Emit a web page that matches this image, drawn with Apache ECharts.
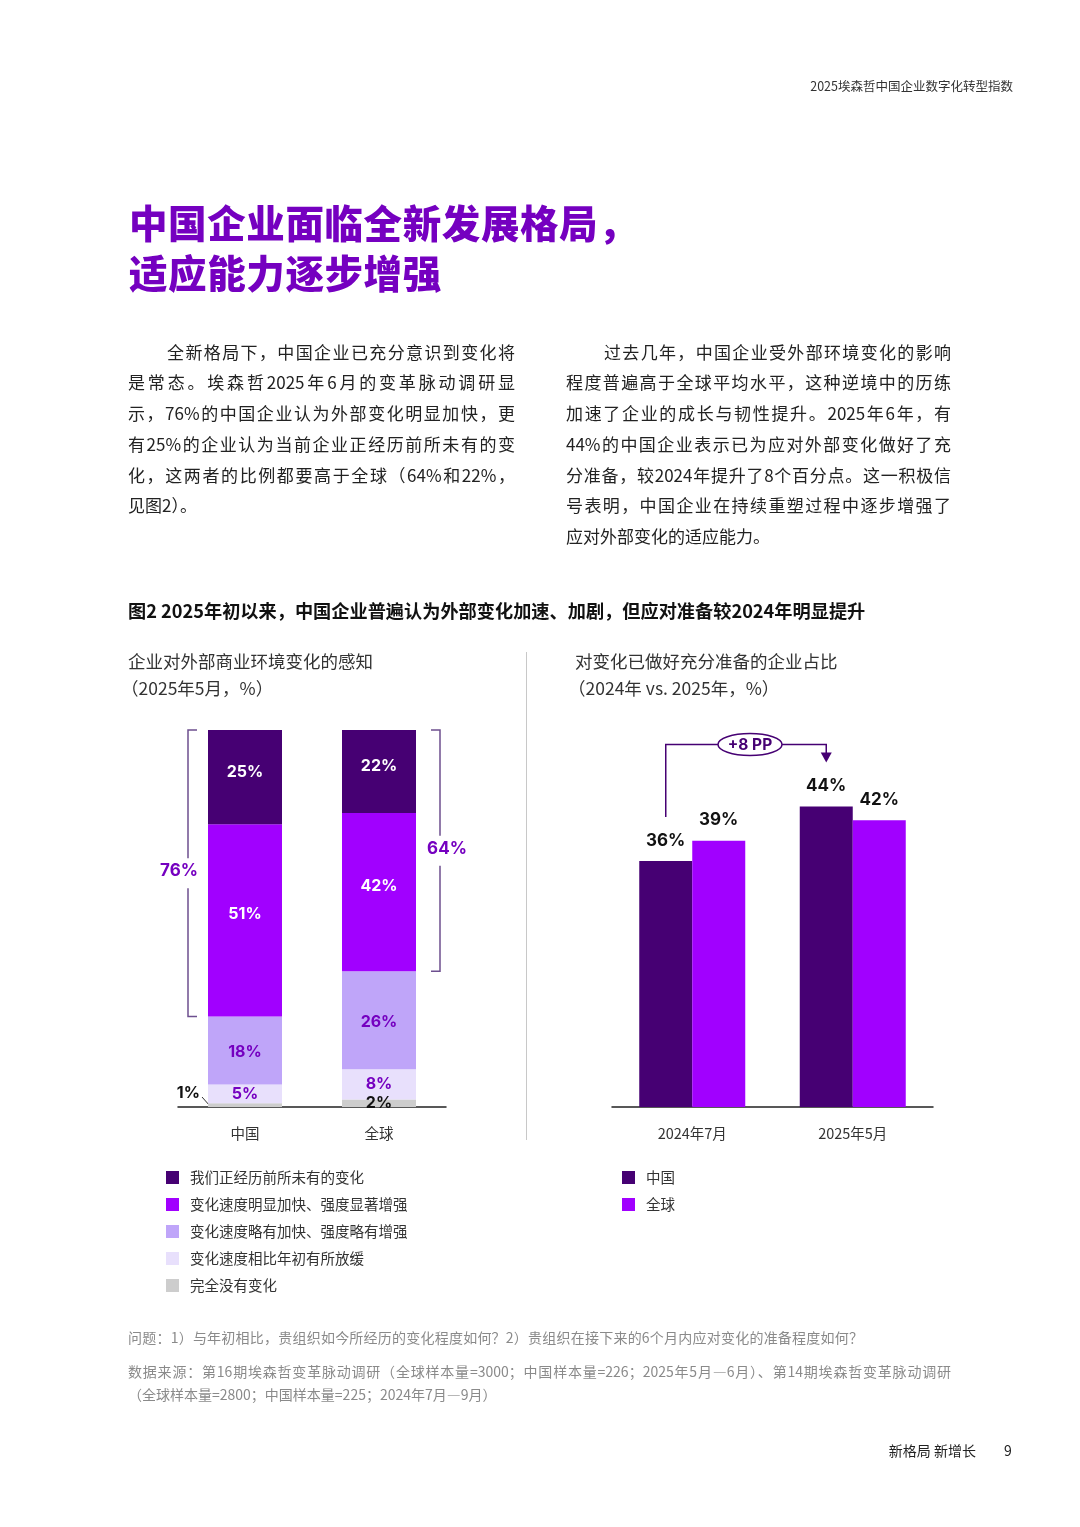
<!DOCTYPE html>
<html lang="zh-CN">
<head>
<meta charset="utf-8">
<title>图2 中国企业面临全新发展格局</title>
<script src="https://cdn.jsdelivr.net/npm/echarts@6.0.0/dist/echarts.min.js"></script>
<style>
  html, body { margin: 0; padding: 0; background: #fff; }
  #page { position: relative; width: 1080px; height: 1527px; overflow: hidden;
          font-family: "Noto Sans CJK SC", "Noto Sans", sans-serif; color: #222; }
  #chart { position: absolute; left: 0; top: 0; width: 1080px; height: 1527px; }
  .txt { position: absolute; white-space: nowrap; }
  .para { position: absolute; font-size: 17px; line-height: 30.8px; color: #222; }
  .para div, .just { text-align: justify; text-align-last: justify; }
  .para div.last { text-align-last: left; }
  .note { position: absolute; font-size: 14px; line-height: 23px; color: #8a8a8a; }
  .pl { margin-left: -7px; }
</style>
</head>
<body>
<div id="page">
  <div id="chart"></div>

  <div class="txt" style="right:67px; top:78px; font-size:12.5px; line-height:16px; color:#333;">2025埃森哲中国企业数字化转型指数</div>

  <div class="txt" style="left:129px; top:196px; font-size:38.5px; line-height:50px; font-weight:900; letter-spacing:0.6px; color:#7500c0;">中国企业面临全新发展格局，<br>适应能力逐步增强</div>

  <div class="para" style="left:128px; top:336.5px; width:387px;">
    <div style="padding-left:39px;">全新格局下，中国企业已充分意识到变化将</div>
    <div>是常态。埃森哲2025年6月的变革脉动调研显</div>
    <div>示，76%的中国企业认为外部变化明显加快，更</div>
    <div>有25%的企业认为当前企业正经历前所未有的变</div>
    <div>化，这两者的比例都要高于全球（64%和22%，</div>
    <div class="last">见图2）。</div>
  </div>

  <div class="para" style="left:566px; top:336.5px; width:385px;">
    <div style="padding-left:38px;">过去几年，中国企业受外部环境变化的影响</div>
    <div>程度普遍高于全球平均水平，这种逆境中的历练</div>
    <div>加速了企业的成长与韧性提升。2025年6年，有</div>
    <div>44%的中国企业表示已为应对外部变化做好了充</div>
    <div>分准备，较2024年提升了8个百分点。这一积极信</div>
    <div>号表明，中国企业在持续重塑过程中逐步增强了</div>
    <div class="last">应对外部变化的适应能力。</div>
  </div>

  <div class="txt" style="left:128px; top:598px; font-size:18.2px; line-height:24px; font-weight:700; color:#111;">图2 2025年初以来，中国企业普遍认为外部变化加速、加剧，但应对准备较2024年明显提升</div>

  <div class="txt" style="left:128px; top:646.5px; font-size:17.5px; line-height:27px; color:#333;">企业对外部商业环境变化的感知<br><span class="pl">（2025年5月，%）</span></div>
  <div class="txt" style="left:575px; top:646.5px; font-size:17.5px; line-height:27px; color:#333;">对变化已做好充分准备的企业占比<br><span class="pl">（2024年 vs. 2025年，%）</span></div>

  <div class="note" style="left:128px; top:1325.5px;">
    <div class="just" style="width:735px;">问题：1）与年初相比，贵组织如今所经历的变化程度如何？2）贵组织在接下来的6个月内应对变化的准备程度如何？</div>
  </div>
  <div class="note" style="left:128px; top:1359.5px;">
    <div class="just" style="width:823px;">数据来源：第16期埃森哲变革脉动调研（全球样本量=3000；中国样本量=226；2025年5月—6月）、第14期埃森哲变革脉动调研</div>
    <div>（全球样本量=2800；中国样本量=225；2024年7月—9月）</div>
  </div>

  <div class="txt" style="right:104px; top:1440px; font-size:14px; line-height:20px; color:#222;">新格局 新增长</div>
  <div class="txt" style="left:1004px; top:1440px; font-size:14px; line-height:20px; color:#222;">9</div>
</div>

<script>
// 左图：企业对外部商业环境变化的感知（2025年5月，%）
var leftCategories = ['中国', '全球'];
var changeNames = [
    '我们正经历前所未有的变化',
    '变化速度明显加快、强度显著增强',
    '变化速度略有加快、强度略有增强',
    '变化速度相比年初有所放缓',
    '完全没有变化'
];
var unprecedented = [25, 22];
var clearlyFaster = [51, 42];
var slightlyFaster = [18, 26];
var slowedDown = [5, 8];
var noChange = [1, 2];
var bracketTotals = [76, 64];

// 右图：对变化已做好充分准备的企业占比（%）
var rightCategories = ['2024年7月', '2025年5月'];
var readyNames = ['中国', '全球'];
var readyChina = [36, 44];
var readyGlobal = [39, 42];
var ppLabel = '+8 PP';

var DARK = '#460073', BRIGHT = '#a100ff', LIGHT = '#bfa5f9', LIGHTEST = '#e8e0fc', GRAY = '#cdcdcd';
var NUM_FONT = 'Inter, "Noto Sans CJK SC", sans-serif';

var myChart = echarts.init(document.getElementById('chart'));

function stackSeries(name, data, color, labelColor, dy) {
    return {
        name: name,
        type: 'bar',
        stack: 'change',
        xAxisIndex: 0,
        yAxisIndex: 0,
        barWidth: 74,
        data: data,
        itemStyle: { color: color },
        label: {
            show: true,
            position: 'inside',
            offset: [0, dy || 0],
            formatter: '{c}%',
            color: labelColor,
            fontFamily: NUM_FONT,
            fontWeight: 'bold',
            fontSize: 16
        },
        emphasis: { disabled: true }
    };
}

function readySeries(name, data, color) {
    return {
        name: name,
        type: 'bar',
        xAxisIndex: 1,
        yAxisIndex: 1,
        barWidth: 53,
        barGap: '0%',
        data: data,
        itemStyle: { color: color },
        label: {
            show: true,
            position: 'top',
            distance: 12,
            formatter: '{c}%',
            color: '#111',
            fontFamily: NUM_FONT,
            fontWeight: 'bold',
            fontSize: 17
        },
        emphasis: { disabled: true }
    };
}

// 1% 放在柱外左侧
var noChangeData = noChange.map(function (v, i) {
    if (i === 0) {
        return { value: v, label: { position: 'left', distance: 8, offset: [0, -12], color: '#111' } };
    }
    return v;
});

var legendBase = {
    orient: 'vertical',
    icon: 'rect',
    itemWidth: 13,
    itemHeight: 13,
    itemGap: 11,
    selectedMode: false,
    textStyle: { fontSize: 14.5, lineHeight: 16, color: '#333', padding: [0, 0, 0, 6],
                 fontFamily: '"Noto Sans CJK SC", sans-serif' }
};

var option = {
    animation: false,
    textStyle: { fontFamily: '"Noto Sans CJK SC", sans-serif' },
    grid: [
        { left: 178, top: 730, width: 268, height: 377 },
        { left: 612, top: 1107 - 341.5, width: 321, height: 341.5 }
    ],
    xAxis: [
        {
            type: 'category', gridIndex: 0, data: leftCategories,
            axisTick: { show: false },
            axisLine: { lineStyle: { color: '#222', width: 1.5 } },
            axisLabel: { color: '#333', fontSize: 14.5, margin: 19 }
        },
        {
            type: 'category', gridIndex: 1, data: rightCategories,
            axisTick: { show: false },
            axisLine: { lineStyle: { color: '#222', width: 1.5 } },
            axisLabel: { color: '#333', fontSize: 14.5, margin: 19 }
        }
    ],
    yAxis: [
        { type: 'value', gridIndex: 0, min: 0, max: 100, show: false, splitLine: { show: false } },
        { type: 'value', gridIndex: 1, min: 0, max: 50, show: false, splitLine: { show: false } }
    ],
    legend: [
        Object.assign({}, legendBase, { data: changeNames, left: 161, top: 1164.5 }),
        Object.assign({}, legendBase, { data: readyNames, left: 617, top: 1164.5 })
    ],
    series: [
        stackSeries(changeNames[4], noChangeData, GRAY, '#111'),
        stackSeries(changeNames[3], slowedDown, LIGHTEST, '#7500c0'),
        stackSeries(changeNames[2], slightlyFaster, LIGHT, '#7500c0', 2),
        stackSeries(changeNames[1], clearlyFaster, BRIGHT, '#fff', -6),
        stackSeries(changeNames[0], unprecedented, DARK, '#fff', -5),
        readySeries(readyNames[0], readyChina, DARK),
        readySeries(readyNames[1], readyGlobal, BRIGHT)
    ]
};

myChart.setOption(option);

// 括号、引线和 +8 PP 标注按坐标轴换算位置
var L = { xAxisIndex: 0, yAxisIndex: 0 };
var R = { xAxisIndex: 1, yAxisIndex: 1 };
var BRACKET = '#6d4f8f';
var graphics = [];

// 分隔竖线
graphics.push({
    type: 'line', silent: true,
    shape: { x1: 526.5, y1: 652, x2: 526.5, y2: 1140 },
    style: { stroke: '#c8c8c8', lineWidth: 1 }
});

function bracket(catIdx, total, side) {
    var lower = 100 - total;
    var top = myChart.convertToPixel(L, [catIdx, 100]);
    var bot = myChart.convertToPixel(L, [catIdx, lower]);
    var xb = side < 0 ? top[0] - 37 - 20 : top[0] + 37 + 24;
    var tick = side < 0 ? 9 : -9;
    var mid = (top[1] + bot[1]) / 2;
    graphics.push({
        type: 'polyline', silent: true,
        shape: { points: [[xb + tick, top[1]], [xb, top[1]], [xb, mid - 15]] },
        style: { stroke: BRACKET, lineWidth: 1.5, fill: null }
    });
    graphics.push({
        type: 'polyline', silent: true,
        shape: { points: [[xb, mid + 15], [xb, bot[1]], [xb + tick, bot[1]]] },
        style: { stroke: BRACKET, lineWidth: 1.5, fill: null }
    });
    graphics.push({
        type: 'text', silent: true,
        style: {
            text: total + '%', x: side < 0 ? xb - 9 : xb + 7, y: mid - 2,
            align: 'center', verticalAlign: 'middle',
            fontFamily: NUM_FONT, fontWeight: 'bold', fontSize: 17, fill: '#7500c0'
        }
    });
}
// 括号覆盖的是“前所未有”+“明显加快”两段
bracket(0, bracketTotals[0], -1);
bracket(1, bracketTotals[1], 1);

// 1% 引线
var base0 = myChart.convertToPixel(L, [0, 0]);
graphics.push({
    type: 'line', silent: true,
    shape: { x1: base0[0] - 37 - 6, y1: base0[1] - 10, x2: base0[0] - 37 + 2, y2: base0[1] - 1 },
    style: { stroke: '#333', lineWidth: 1 }
});

// +8 PP 标注：从 2024 中国柱上方折到 2025 中国柱上方
var p24 = myChart.convertToPixel(R, [0, readyChina[0]]);
var p25 = myChart.convertToPixel(R, [1, readyChina[1]]);
var x24 = p24[0] - 26.5;
var x25 = p25[0] - 26.5;
var yTop = p25[1] - 62;
var yEnd = p25[1] - 44;
graphics.push({
    type: 'polyline', silent: true,
    shape: { points: [[x24, p24[1] - 44], [x24, yTop], [x25, yTop], [x25, yEnd - 9]] },
    style: { stroke: DARK, lineWidth: 1.5, fill: null }
});
graphics.push({
    type: 'polygon', silent: true,
    shape: { points: [[x25 - 5.5, yEnd - 10], [x25 + 5.5, yEnd - 10], [x25, yEnd]] },
    style: { fill: DARK }
});
var cx = (x24 + x25) / 2 + 4;
graphics.push({
    type: 'ellipse', silent: true,
    shape: { cx: cx, cy: yTop, rx: 32, ry: 11 },
    style: { fill: '#fff', stroke: DARK, lineWidth: 1.5 }
});
graphics.push({
    type: 'text', silent: true,
    style: {
        text: ppLabel, x: cx, y: yTop + 0.5, align: 'center', verticalAlign: 'middle',
        fontFamily: NUM_FONT, fontWeight: 'bold', fontSize: 15.5, fill: DARK
    }
});

myChart.setOption({ graphic: graphics });
</script>
</body>
</html>
